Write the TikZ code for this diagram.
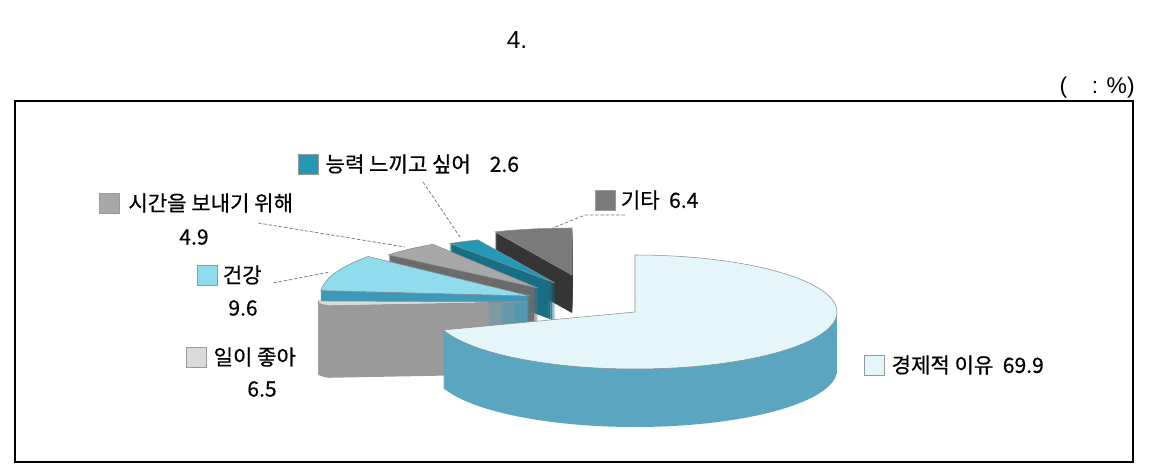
\documentclass[tikz,border=0pt]{standalone}
\usepackage{fontspec}
\setmainfont{Liberation Sans}
\newfontfamily\krfont[FakeBold=0.6]{Noto Sans CJK KR}
\usetikzlibrary{positioning}

\definecolor{econTop}{HTML}{E4F6FA}
\definecolor{econSide}{HTML}{5AA5C0}
\definecolor{workTop}{HTML}{DADADA}
\definecolor{workSide}{HTML}{9A9A9A}
\definecolor{healthTop}{HTML}{8EDCEC}
\definecolor{healthSide}{HTML}{3E98B8}
\definecolor{timeTop}{HTML}{A8A8A8}
\definecolor{timeSide}{HTML}{6B6B6B}
\definecolor{abilTop}{HTML}{2399B6}
\definecolor{abilSide}{HTML}{176F86}
\definecolor{etcTop}{HTML}{7A7A7A}
\definecolor{etcSide}{HTML}{353535}

% one slice of the 3-d pie: x, y, x radius, y radius, start, end, height, top, side
\newcommand{\pieslice}[9]{%
  \foreach \dy in {1,...,#7}
    \fill[#9, shift={(0,\dy)}] (#1,#2) -- +(#5:#3 and #4)
      arc[start angle=#5, end angle=#6, x radius=#3, y radius=#4] -- cycle;
  \filldraw[fill=#8, draw=black!45, line width=0.3pt] (#1,#2) -- +(#5:#3 and #4)
      arc[start angle=#5, end angle=#6, x radius=#3, y radius=#4] -- cycle;
}

\begin{document}
\begin{tikzpicture}[x=0.02cm, y=-0.02cm,
        lbl/.style={inner sep=0pt, font=\krfont\fontsize{12}{14}\selectfont},
        legendbox/.style={draw=black!40, line width=0.3pt, minimum size=0.4cm, inner sep=0pt},
        leader/.style={draw=black!55, line width=0.4pt, dash pattern=on 2pt off 1pt}]
    \useasboundingbox (0,0) rectangle (1149,473);

    \node (title) at (517,40) {\fontsize{14}{16}\selectfont 4.};
    \node[anchor=east, inner sep=0pt] (unit) at (1135,88)
        {\fontsize{13}{15}\selectfont (\hspace{14pt}: \%)};
    \draw[line width=1.1pt] (15,101) rectangle (1133,462);

    % slices, back to front
    \pieslice{572}{275}{194}{47}{246.6}{270}{38}{etcTop}{etcSide}
    \pieslice{555}{283}{194}{47}{237.2}{246.6}{38}{abilTop}{abilSide}
    \pieslice{538}{288}{194}{52}{219.6}{237.2}{38}{timeTop}{timeSide}
    \pieslice{530}{296}{210}{62}{185}{219.6}{38}{healthTop}{healthSide}
    \pieslice{528}{302}{210}{12}{161.6}{185}{72}{workTop}{workSide}
    \pieslice{635}{312}{202}{57}{-90}{161.6}{58}{econTop}{econSide}

    \node[legendbox, fill=abilTop] (kAbil) at (308,164) {};
    \node[lbl, right=4pt of kAbil] (tAbil) {능력 느끼고 싶어\ \ \ \ 2.6};

    \node[legendbox, fill=etcTop] (kEtc) at (605,200) {};
    \node[lbl, right=3pt of kEtc] (tEtc) {기타\ \ 6.4};

    \node[legendbox, fill=timeTop] (kTime) at (109,203) {};
    \node[lbl, right=5pt of kTime] (tTime) {시간을 보내기 위해};
    \node[lbl] (vTime) at (194,237) {4.9};

    \node[legendbox, fill=healthTop] (kHealth) at (207,275) {};
    \node[lbl, right=3pt of kHealth] (tHealth) {건강};
    \node[lbl] (vHealth) at (243,308) {9.6};

    \node[legendbox, fill=workTop] (kWork) at (196,357) {};
    \node[lbl, right=4pt of kWork] (tWork) {일이 좋아};
    \node[lbl] (vWork) at (262,389) {6.5};

    \node[legendbox, fill=econTop] (kEcon) at (874,365) {};
    \node[lbl, right=4pt of kEcon] (tEcon) {경제적 이유\ \ 69.9};

    % leader lines
    \coordinate (lAbil) at (423,182);   \coordinate (pAbil) at (460,237);
    \coordinate (lTime) at (258,223);   \coordinate (pTime) at (405,247);
    \coordinate (lHealth) at (273,283); \coordinate (pHealth) at (330,272);
    \coordinate (lEtc) at (625,215);    \coordinate (bEtc) at (585,215);
    \coordinate (pEtc) at (553,228);
    \draw[leader] (lAbil) -- (pAbil);
    \draw[leader] (lTime) -- (pTime);
    \draw[leader] (lHealth) -- (pHealth);
    \draw[leader] (lEtc) -- (bEtc) -- (pEtc);
\end{tikzpicture}
\end{document}
